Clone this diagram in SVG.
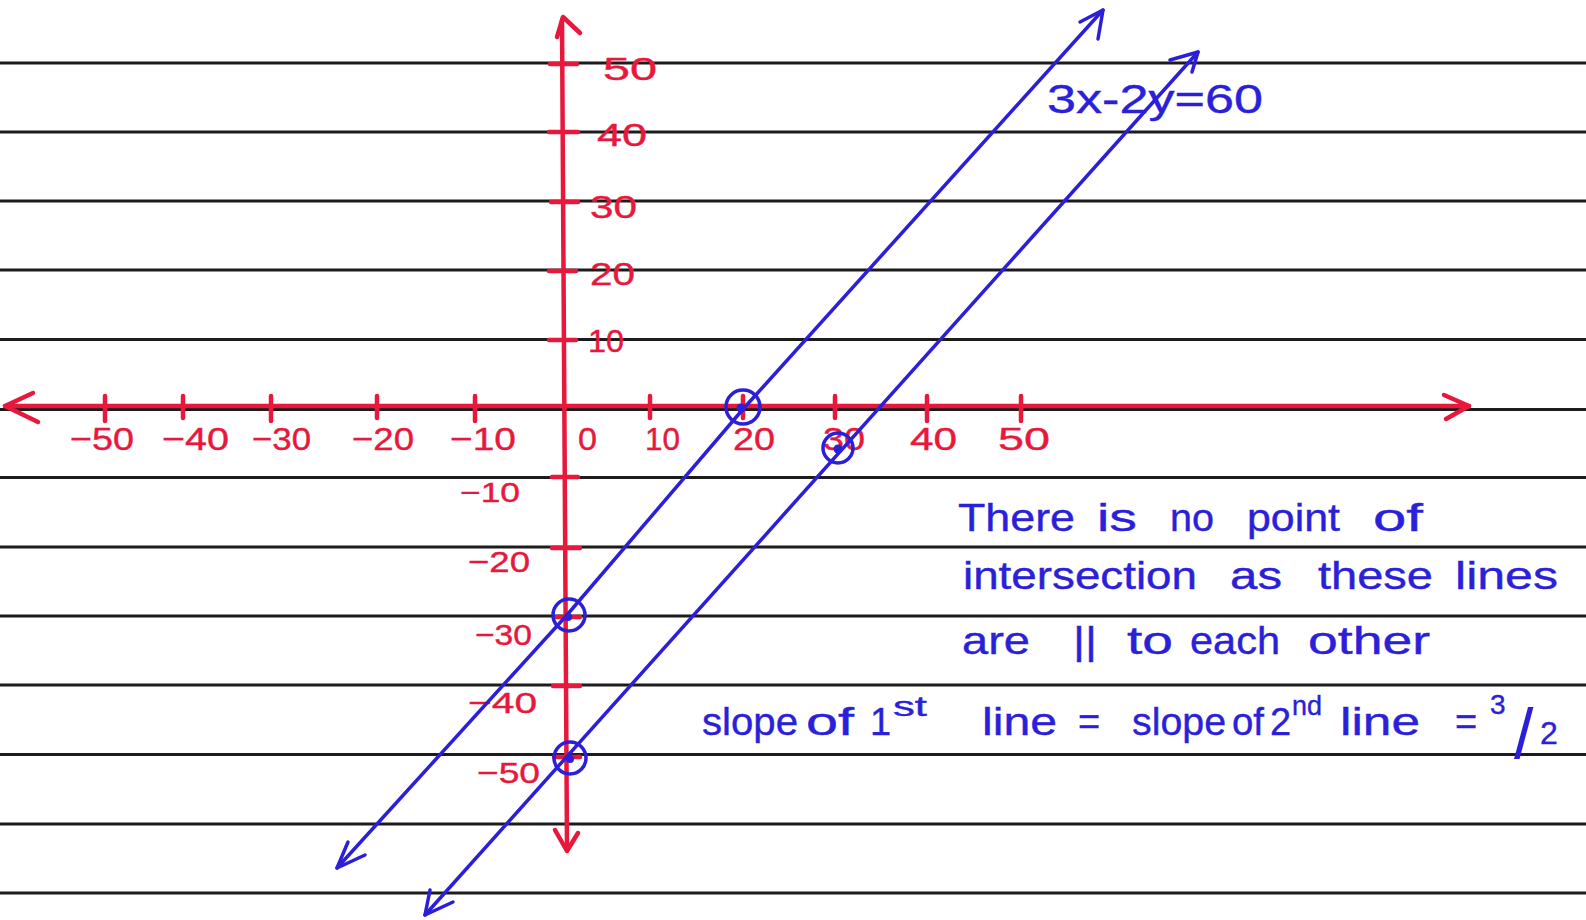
<svg xmlns="http://www.w3.org/2000/svg" width="1586" height="920" viewBox="0 0 1586 920">
<style>
.grid{stroke:#1c1c1c;stroke-width:3;fill:none}
.ax{stroke:#e8183c;stroke-width:4.5;fill:none;stroke-linecap:round;stroke-linejoin:round}
.rl{fill:#e8183c;stroke:#e8183c;stroke-width:0.4;font-family:"Liberation Sans",Arial,sans-serif;font-size:32px}
.bl{stroke:#2b1fd9;stroke-width:3.5;fill:none;stroke-linecap:round;stroke-linejoin:round}
.bt{fill:#2b1fd9;stroke:#2b1fd9;stroke-width:0.4;font-family:"Liberation Sans",Arial,sans-serif;font-size:38px}
.sup{font-size:28px}
.dot{fill:#2b1fd9}
</style>
<rect width="1586" height="920" fill="#ffffff"/>
<g id="grid">
<line class="grid" x1="0" y1="63" x2="1586" y2="63"/>
<line class="grid" x1="0" y1="132" x2="1586" y2="132"/>
<line class="grid" x1="0" y1="201" x2="1586" y2="201"/>
<line class="grid" x1="0" y1="270" x2="1586" y2="270"/>
<line class="grid" x1="0" y1="339.5" x2="1586" y2="339.5"/>
<line class="grid" x1="0" y1="409.5" x2="1586" y2="409.5"/>
<line class="grid" x1="0" y1="477.5" x2="1586" y2="477.5"/>
<line class="grid" x1="0" y1="547" x2="1586" y2="547"/>
<line class="grid" x1="0" y1="616" x2="1586" y2="616"/>
<line class="grid" x1="0" y1="685" x2="1586" y2="685"/>
<line class="grid" x1="0" y1="754.5" x2="1586" y2="754.5"/>
<line class="grid" x1="0" y1="824" x2="1586" y2="824"/>
<line class="grid" x1="0" y1="893" x2="1586" y2="893"/>
</g>
<g id="x-axis">
<path class="ax" d="M5 406 L1469 406"/>
<path class="ax" d="M33 393 L5 406 L38 422"/>
<path class="ax" d="M1444 395 L1469 406 L1446 419"/>
<path class="ax" d="M105 396 V421 M183 396 V418 M271 396 V421 M377 396 V418 M475 396 V421 M650 396 V418 M743 396 V418 M835 396 V418 M927 396 V421 M1021 396 V421"/>
</g>
<g id="y-axis">
<path class="ax" d="M562 20 L567 848"/>
<path class="ax" d="M557 37 L563 17 L580 33"/>
<path class="ax" d="M555 830 L567 851 L578 833"/>
<path class="ax" d="M550 64 H577 M549 132 H578 M551 202 H578 M549 271 H576 M549 340 H576 M552 477 H578 M552 548 H580 M556 617 H580 M553 686 H580 M554 757 H580"/>
</g>
<g id="x-labels">
<text class="rl" x="70" y="450" textLength="64" lengthAdjust="spacingAndGlyphs">−50</text>
<text class="rl" x="162" y="450" textLength="67" lengthAdjust="spacingAndGlyphs">−40</text>
<text class="rl" x="252" y="450" textLength="59" lengthAdjust="spacingAndGlyphs">−30</text>
<text class="rl" x="352" y="450" textLength="62" lengthAdjust="spacingAndGlyphs">−20</text>
<text class="rl" x="450" y="450" textLength="66" lengthAdjust="spacingAndGlyphs">−10</text>
<text class="rl" x="578" y="450" textLength="19" lengthAdjust="spacingAndGlyphs">0</text>
<text class="rl" x="645" y="450" textLength="35" lengthAdjust="spacingAndGlyphs">10</text>
<text class="rl" x="733" y="450" textLength="42" lengthAdjust="spacingAndGlyphs">20</text>
<text class="rl" x="823" y="450" textLength="42" lengthAdjust="spacingAndGlyphs">30</text>
<text class="rl" x="910" y="450" textLength="47" lengthAdjust="spacingAndGlyphs">40</text>
<text class="rl" x="998" y="450" textLength="52" lengthAdjust="spacingAndGlyphs">50</text>
</g>
<g id="y-labels">
<text class="rl" x="603" y="80" textLength="54" lengthAdjust="spacingAndGlyphs">50</text>
<text class="rl" x="597" y="146" textLength="50" lengthAdjust="spacingAndGlyphs">40</text>
<text class="rl" x="590" y="218" textLength="47" lengthAdjust="spacingAndGlyphs">30</text>
<text class="rl" x="590" y="285" textLength="45" lengthAdjust="spacingAndGlyphs">20</text>
<text class="rl" x="588" y="352" textLength="36" lengthAdjust="spacingAndGlyphs">10</text>
<text class="rl" x="460" y="502" textLength="60" lengthAdjust="spacingAndGlyphs" style="font-size:28px">−10</text>
<text class="rl" x="468" y="572" textLength="62" lengthAdjust="spacingAndGlyphs" style="font-size:30px">−20</text>
<text class="rl" x="475" y="645" textLength="57" lengthAdjust="spacingAndGlyphs" style="font-size:30px">−30</text>
<text class="rl" x="468" y="713" textLength="69" lengthAdjust="spacingAndGlyphs" style="font-size:30px">−40</text>
<text class="rl" x="477" y="783" textLength="63" lengthAdjust="spacingAndGlyphs" style="font-size:30px">−50</text>
</g>
<g id="connectors">
<polyline class="bl" points="337,868 567,615 744,408 1103,10"/>
<path class="bl" d="M1080 22 L1103 10 L1098 39"/>
<path class="bl" d="M348 842 L337 868 L365 855"/>
<line class="bl" x1="425" y1="915" x2="1198" y2="52"/>
<path class="bl" d="M1170 60 L1198 52 L1192 72"/>
<path class="bl" d="M430 890 L425 915 L453 902"/>
</g>
<g id="points">
<circle class="bl" cx="743" cy="407" r="17"/>
<circle class="dot" cx="741" cy="408" r="4.5"/>
<circle class="bl" cx="838" cy="448" r="15"/>
<circle class="dot" cx="838" cy="449" r="4.5"/>
<circle class="bl" cx="569" cy="615" r="16"/>
<circle class="dot" cx="568" cy="617" r="4"/>
<circle class="bl" cx="570" cy="758" r="16"/>
<circle class="dot" cx="570" cy="759" r="4"/>
</g>
<g id="equation-label">
<text class="bt" x="1047" y="113" textLength="216" lengthAdjust="spacingAndGlyphs" style="font-size:40px">3x-2y=60</text>
</g>
<g id="note">
<text class="bt" x="958" y="531" textLength="117" lengthAdjust="spacingAndGlyphs">There</text>
<text class="bt" x="1097" y="531" textLength="40" lengthAdjust="spacingAndGlyphs">is</text>
<text class="bt" x="1170" y="531" textLength="44" lengthAdjust="spacingAndGlyphs">no</text>
<text class="bt" x="1247" y="531" textLength="93" lengthAdjust="spacingAndGlyphs">point</text>
<text class="bt" x="1373" y="531" textLength="50" lengthAdjust="spacingAndGlyphs">of</text>
<text class="bt" x="963" y="589" textLength="234" lengthAdjust="spacingAndGlyphs">intersection</text>
<text class="bt" x="1230" y="589" textLength="52" lengthAdjust="spacingAndGlyphs">as</text>
<text class="bt" x="1318" y="589" textLength="115" lengthAdjust="spacingAndGlyphs">these</text>
<text class="bt" x="1455" y="589" textLength="103" lengthAdjust="spacingAndGlyphs">lines</text>
<text class="bt" x="962" y="654" textLength="68" lengthAdjust="spacingAndGlyphs">are</text>
<text class="bt" x="1073" y="654" textLength="24" lengthAdjust="spacingAndGlyphs">||</text>
<text class="bt" x="1127" y="654" textLength="46" lengthAdjust="spacingAndGlyphs">to</text>
<text class="bt" x="1190" y="654" textLength="90" lengthAdjust="spacingAndGlyphs">each</text>
<text class="bt" x="1308" y="654" textLength="122" lengthAdjust="spacingAndGlyphs">other</text>
</g>
<g id="slope-note">
<text class="bt" x="702" y="735" textLength="96" lengthAdjust="spacingAndGlyphs">slope</text>
<text class="bt" x="806" y="735" textLength="48" lengthAdjust="spacingAndGlyphs">of</text>
<text class="bt" x="870" y="735">1</text>
<text class="bt sup" x="893" y="716" textLength="34" lengthAdjust="spacingAndGlyphs">st</text>
<text class="bt" x="982" y="735" textLength="75" lengthAdjust="spacingAndGlyphs">line</text>
<text class="bt" x="1078" y="735">=</text>
<text class="bt" x="1132" y="735" textLength="94" lengthAdjust="spacingAndGlyphs">slope</text>
<text class="bt" x="1232" y="735" textLength="32" lengthAdjust="spacingAndGlyphs">of</text>
<text class="bt" x="1270" y="735">2</text>
<text class="bt sup" x="1292" y="715" textLength="30" lengthAdjust="spacingAndGlyphs">nd</text>
<text class="bt" x="1340" y="735" textLength="80" lengthAdjust="spacingAndGlyphs">line</text>
<text class="bt" x="1455" y="735">=</text>
<text class="bt sup" x="1490" y="714">3</text>
<text class="bt" x="1514" y="758" style="font-size:70px;stroke-width:0">/</text>
<text class="bt" x="1540" y="744" style="font-size:32px">2</text>
</g>
</svg>
